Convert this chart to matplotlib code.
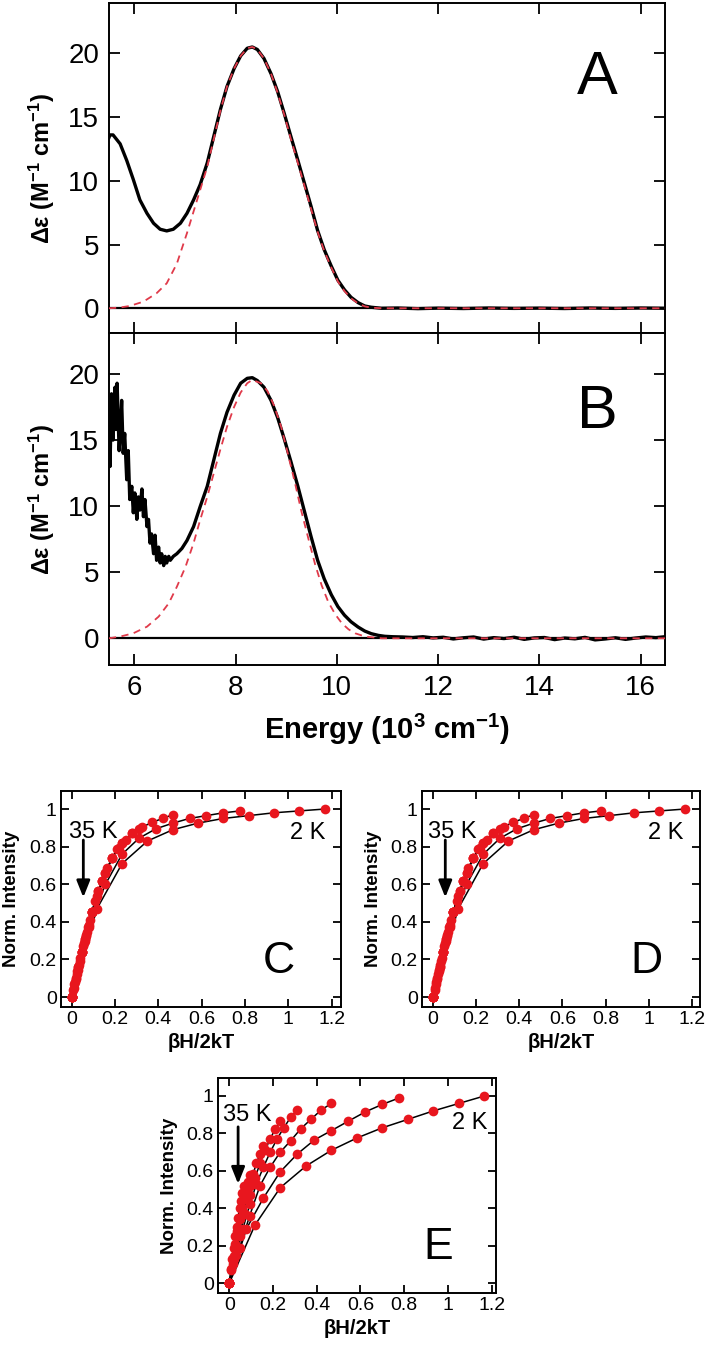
import matplotlib
matplotlib.use("Agg")
import matplotlib.pyplot as plt

plt.rcParams['font.family'] = ['Liberation Sans', 'DejaVu Sans']
plt.rcParams['mathtext.fontset'] = 'custom'
plt.rcParams['mathtext.bf'] = 'Liberation Sans:bold'
plt.rcParams['mathtext.rm'] = 'Liberation Sans'
plt.rcParams['mathtext.default'] = 'bf'

RED_DASH = '#e03a4a'
RED_DOT = '#e8161e'

# ---- panel A: MCD spectrum (solid) and gaussian fit (dashed)
a_x = [5.50, 5.52, 5.58, 5.64, 5.72, 5.85, 5.98, 6.11, 6.25, 6.38, 6.51, 6.64, 6.77, 6.91,
       7.04, 7.17, 7.30, 7.44, 7.57, 7.70, 7.83, 7.97, 8.10, 8.23, 8.33, 8.43, 8.56, 8.70,
       8.83, 8.96, 9.09, 9.23, 9.36, 9.49, 9.62, 9.75, 9.89, 10.02, 10.15, 10.28, 10.42,
       10.55, 10.68, 10.88, 11.2, 11.6, 12.0, 12.5, 13.0, 13.5, 14.0, 14.5, 15.0, 15.5,
       16.0, 16.48]
a_y = [13.4, 13.6, 13.6, 13.3, 12.9, 11.6, 10.1, 8.5, 7.45, 6.67, 6.2, 6.07, 6.2, 6.67,
       7.45, 8.5, 9.7, 11.4, 13.5, 15.6, 17.4, 18.8, 19.8, 20.4, 20.5, 20.3, 19.6, 18.4,
       17.0, 15.3, 13.5, 11.6, 9.8, 8.0, 6.1, 4.6, 3.3, 2.2, 1.45, 0.86, 0.44,
       0.18, 0.08, 0.0, 0.02, -0.03, 0.01, -0.02, 0.02, -0.01, 0.01, -0.02, 0.02, -0.01,
       0.02, 0.0]
a_fit_x = [5.50, 5.70, 5.91, 6.18, 6.44, 6.64, 6.84, 7.04, 7.24, 7.44, 7.57, 7.70, 7.83,
           7.97, 8.10, 8.23, 8.33, 8.43, 8.56, 8.70, 8.83, 8.96, 9.09, 9.23, 9.36, 9.49,
           9.62, 9.75, 9.89, 10.02, 10.15, 10.28, 10.42, 10.55, 10.68, 10.88, 11.5, 16.48]
a_fit_y = [0.0, 0.05, 0.18, 0.52, 1.18, 1.96, 3.5, 5.9, 8.5, 11.1, 13.3, 15.5, 17.4,
           18.8, 19.8, 20.4, 20.5, 20.3, 19.6, 18.4, 16.9, 15.2, 13.3, 11.4, 9.6, 7.8,
           6.0, 4.5, 3.2, 2.1, 1.35, 0.78, 0.38, 0.15, 0.05, 0.0, 0.0, 0.0]

# ---- panel B
b_x = [5.50, 5.52, 5.55, 5.58, 5.62, 5.64, 5.66, 5.70, 5.73, 5.75, 5.78, 5.81, 5.85, 5.88,
       5.91, 5.95, 5.98, 6.01, 6.05, 6.08, 6.11, 6.15, 6.18, 6.21, 6.25, 6.28, 6.31, 6.34,
       6.38, 6.41, 6.44, 6.48, 6.51, 6.54, 6.58, 6.61, 6.64, 6.68, 6.71, 6.77, 6.84, 6.94,
       7.04, 7.17, 7.30, 7.44, 7.57, 7.70, 7.83, 7.97, 8.10, 8.23, 8.33, 8.43, 8.56, 8.70,
       8.83, 8.96, 9.09, 9.23, 9.36, 9.49, 9.62, 9.75, 9.89, 10.02, 10.15, 10.28, 10.42,
       10.55, 10.68, 10.82, 10.95, 11.1, 11.3, 11.5, 11.7, 11.9, 12.1, 12.3, 12.5, 12.7,
       12.9, 13.1, 13.3, 13.5, 13.7, 13.9, 14.1, 14.3, 14.5, 14.7, 14.9, 15.1, 15.3, 15.5,
       15.7, 15.9, 16.1, 16.3, 16.48]
b_y = [16.0, 13.0, 18.5, 15.0, 19.0, 15.8, 19.3, 14.2, 16.3, 18.0, 14.0, 15.5, 12.0, 14.2,
       10.5, 11.5, 9.5, 11.0, 9.0, 10.7, 9.7, 11.3, 9.2, 10.5, 8.45, 9.0, 7.2, 7.9,
       6.4, 7.8, 5.9, 6.9, 5.7, 6.4, 5.5, 6.2, 5.7, 6.2, 5.9, 6.2, 6.4, 6.8,
       7.4, 8.45, 9.96, 11.5, 13.5, 15.5, 17.1, 18.4, 19.3, 19.67, 19.72, 19.5, 19.0, 18.0,
       16.7, 15.1, 13.4, 11.5, 9.6, 7.7, 5.9, 4.5, 3.3, 2.4, 1.75, 1.25, 0.85,
       0.55, 0.35, 0.22, 0.15, 0.12, 0.10, 0.06, 0.12, 0.03, 0.08, -0.05, 0.04, 0.10,
       -0.06, 0.05, -0.02, 0.08, -0.08, 0.03, 0.06, -0.10, 0.02, -0.04, 0.07, -0.12, -0.05, 0.04,
       -0.08, 0.02, 0.10, 0.05, 0.12]
b_fit_x = [5.50, 5.72, 5.98, 6.25, 6.48, 6.68, 6.84, 7.01, 7.17, 7.30, 7.44, 7.57, 7.70,
           7.83, 7.97, 8.10, 8.23, 8.33, 8.50, 8.63, 8.76, 8.90, 9.03, 9.17, 9.30, 9.44,
           9.57, 9.70, 9.83, 9.97, 10.10, 10.23, 10.36, 10.56, 10.89, 16.48]
b_fit_y = [0.0, 0.13, 0.38, 0.88, 1.64, 2.65, 3.9, 5.4, 7.2, 8.95, 10.7, 12.5, 14.3,
           16.0, 17.5, 18.6, 19.3, 19.55, 19.3, 18.7, 17.6, 16.0, 14.0, 11.8, 9.6, 7.5,
           5.6, 4.0, 2.75, 1.8, 1.13, 0.68, 0.38, 0.13, 0.0, 0.0]

# ---- VTVH isotherms: x = betaH/2kT for 2, 3, 5, 7.5, 10, 15, 25, 35 K
x_2k = [0, 0.117, 0.233, 0.35, 0.467, 0.583, 0.70, 0.817, 0.933, 1.05, 1.167]
x_3k = [0, 0.078, 0.156, 0.233, 0.311, 0.389, 0.467, 0.544, 0.622, 0.70, 0.778]
x_5k = [0, 0.047, 0.093, 0.14, 0.187, 0.233, 0.28, 0.327, 0.373, 0.42, 0.467]
x_7k = [0, 0.031, 0.062, 0.093, 0.124, 0.156, 0.187, 0.218, 0.249, 0.28, 0.311]
x_10k = [0, 0.023, 0.047, 0.07, 0.093, 0.117, 0.14, 0.163, 0.187, 0.21, 0.233]
x_15k = [0, 0.016, 0.031, 0.047, 0.062, 0.078, 0.093, 0.109, 0.124, 0.14, 0.156]
x_25k = [0, 0.009, 0.019, 0.028, 0.037, 0.047, 0.056, 0.065, 0.075, 0.084, 0.093]
x_35k = [0, 0.007, 0.013, 0.02, 0.027, 0.033, 0.04, 0.047, 0.053, 0.06, 0.067]

# panels C and D
cd_2k = [0, 0.47, 0.71, 0.83, 0.89, 0.925, 0.95, 0.965, 0.98, 0.99, 1.0]
cd_3k = [0, 0.37, 0.60, 0.76, 0.845, 0.895, 0.925, 0.95, 0.965, 0.98, 0.99]
cd_5k = [0, 0.24, 0.45, 0.615, 0.74, 0.82, 0.87, 0.905, 0.93, 0.95, 0.97]
cd_7k = [0, 0.16, 0.31, 0.45, 0.565, 0.66, 0.74, 0.795, 0.835, 0.87, 0.895]
cd_10k = [0, 0.12, 0.24, 0.345, 0.45, 0.54, 0.615, 0.685, 0.74, 0.785, 0.82]
cd_15k = [0, 0.08, 0.16, 0.24, 0.31, 0.385, 0.45, 0.51, 0.565, 0.615, 0.66]
cd_25k = [0, 0.05, 0.095, 0.145, 0.19, 0.24, 0.285, 0.325, 0.37, 0.41, 0.45]
cd_35k = [0, 0.035, 0.07, 0.10, 0.14, 0.17, 0.21, 0.24, 0.27, 0.30, 0.33]

# panel E
e_2k = [0, 0.31, 0.51, 0.625, 0.71, 0.775, 0.83, 0.875, 0.92, 0.96, 1.0]
e_3k = [0, 0.29, 0.455, 0.595, 0.69, 0.765, 0.815, 0.865, 0.915, 0.955, 0.99]
e_5k = [0, 0.19, 0.36, 0.52, 0.62, 0.70, 0.76, 0.825, 0.875, 0.925, 0.96]
e_7k = [0, 0.15, 0.29, 0.42, 0.53, 0.62, 0.70, 0.77, 0.83, 0.885, 0.925]
e_10k = [0, 0.13, 0.25, 0.37, 0.47, 0.56, 0.64, 0.71, 0.77, 0.825, 0.865]
e_15k = [0, 0.10, 0.19, 0.28, 0.37, 0.45, 0.52, 0.585, 0.64, 0.69, 0.73]
e_25k = [0, 0.075, 0.145, 0.21, 0.28, 0.34, 0.40, 0.45, 0.50, 0.54, 0.575]
e_35k = [0, 0.07, 0.13, 0.19, 0.25, 0.30, 0.35, 0.40, 0.44, 0.48, 0.52]

xs = [x_2k, x_3k, x_5k, x_7k, x_10k, x_15k, x_25k, x_35k]
ys_cd = [cd_2k, cd_3k, cd_5k, cd_7k, cd_10k, cd_15k, cd_25k, cd_35k]
ys_e = [e_2k, e_3k, e_5k, e_7k, e_10k, e_15k, e_25k, e_35k]

W, H = 708, 1347
fig = plt.figure(figsize=(W / 100, H / 100), dpi=100)


def box(l, t, r, b):
    return [l / W, 1 - b / H, (r - l) / W, (b - t) / H]


def spectrum(ax, x, y, fx, fy, ylim, letter, ly):
    ax.axhline(0, color='k', lw=1.6, zorder=1)
    ax.plot(x, y, color='k', lw=2.4, zorder=2)
    ax.plot(fx, fy, color=RED_DASH, lw=1.3, ls=(0, (4, 3)), zorder=3)
    ax.set_xlim(5.5, 16.48)
    ax.set_ylim(*ylim)
    ax.set_xticks(range(6, 17, 2))
    ax.set_yticks([0, 5, 10, 15, 20])
    ax.tick_params(direction='in', length=8, width=1.3, top=True, right=True, pad=7,
                   labelsize=20)
    for s in ax.spines.values():
        s.set_linewidth(1.4)
    ax.set_ylabel('Δε (M$^{-1}$ cm$^{-1}$)', fontsize=17, fontweight='bold')
    ax.yaxis.set_label_coords(-0.094, 0.5)
    ax.text(15.15, ly, letter, fontsize=44, ha='center', va='center')


axA = fig.add_axes(box(109, 3, 665, 333))
spectrum(axA, a_x, a_y, a_fit_x, a_fit_y, (-1.94, 23.95), 'A', 18.06)
axA.tick_params(labelbottom=False)

axB = fig.add_axes(box(109, 333, 665, 665))
spectrum(axB, b_x, b_y, b_fit_x, b_fit_y, (-2.02, 23.1), 'B', 17.07)
axB.set_xlabel('Energy (10$^{3}$ cm$^{-1}$)', fontsize=21, fontweight='bold')
axB.xaxis.set_label_coords(0.5, -0.14)


def vtvh(ax, ys, xlim, letter, lx, t35, t2, arr_x):
    for x, y in zip(xs, ys):
        ax.plot(x, y, color='k', lw=1.1, zorder=2)
        ax.plot(x, y, 'o', color=RED_DOT, ms=7, mec='none', zorder=3)
    ax.set_xlim(*xlim)
    ax.set_ylim(-0.053, 1.096)
    ax.set_xticks([0, 0.2, 0.4, 0.6, 0.8, 1.0, 1.2])
    ax.set_xticklabels(['0', '0.2', '0.4', '0.6', '0.8', '1', '1.2'])
    ax.set_yticks([0, 0.2, 0.4, 0.6, 0.8, 1.0])
    ax.set_yticklabels(['0', '0.2', '0.4', '0.6', '0.8', '1'])
    ax.tick_params(direction='in', length=6, width=1.3, top=True, right=True, pad=3,
                   labelsize=14)
    for s in ax.spines.values():
        s.set_linewidth(1.4)
    ax.set_ylabel('Norm. Intensity', fontsize=13.5, fontweight='bold')
    ax.yaxis.set_label_coords(-0.145, 0.5)
    ax.set_xlabel('βH/2kT', fontsize=14.5, fontweight='bold')
    ax.xaxis.set_label_coords(0.5, -0.12)
    ax.text(lx, 0.19, letter, fontsize=32, ha='center', va='center')
    ax.text(t35[0], t35[1], '35 K', fontsize=17, ha='center', va='center')
    ax.text(t2[0], t2[1], '2 K', fontsize=17, ha='center', va='center')
    ax.annotate('', xy=(arr_x, 0.53), xytext=(arr_x, 0.835),
                arrowprops=dict(arrowstyle='-|>,head_length=1.0,head_width=0.4',
                                color='k', lw=2.0, shrinkA=0, shrinkB=0))


axC = fig.add_axes(box(61, 791, 341, 1007))
vtvh(axC, ys_cd, (-0.049, 1.243), 'C', 0.957, (0.10, 0.88), (1.09, 0.87), 0.054)

axD = fig.add_axes(box(422, 791, 700, 1007))
vtvh(axD, ys_cd, (-0.051, 1.238), 'D', 0.99, (0.09, 0.88), (1.08, 0.87), 0.057)

axE = fig.add_axes(box(218, 1078, 496, 1293))
vtvh(axE, ys_e, (-0.052, 1.22), 'E', 0.955, (0.08, 0.90), (1.10, 0.855), 0.04)

fig.savefig('out.png', dpi=100)
